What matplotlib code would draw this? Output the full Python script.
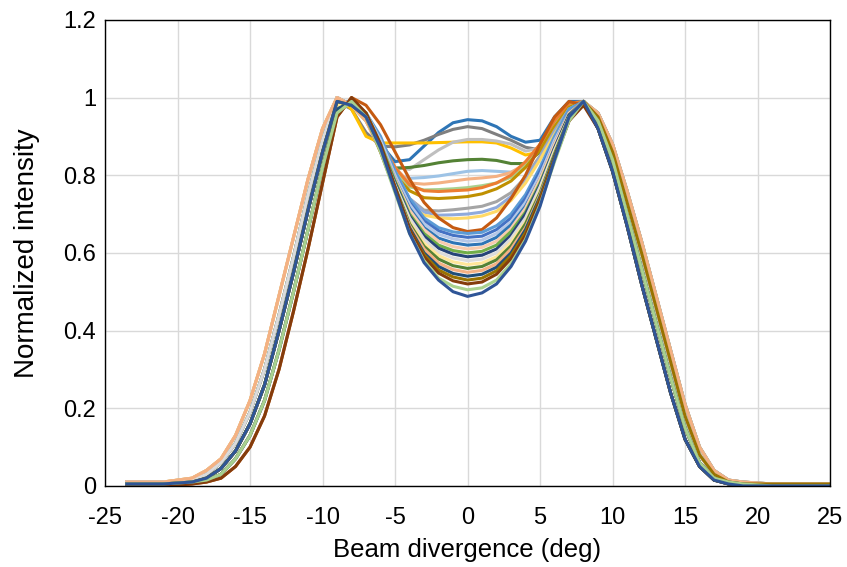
import numpy as np
import matplotlib
matplotlib.use("Agg")
import matplotlib.pyplot as plt

plt.rcParams['font.family'] = ['Liberation Sans', 'DejaVu Sans']
plt.rcParams['axes.unicode_minus'] = False

# x positions (deg) for the three parts of every profile
x_left = [-23.5, -21, -19, -18, -17, -16, -15, -14, -13, -12, -11, -10]
x_mid = [-9, -8, -7, -6, -5, -4, -3, -2, -1, 0, 1, 2, 3, 4, 5, 6, 7, 8]
x_right = [9, 10, 11, 12, 13, 14, 15, 16, 17, 18, 19, 21, 25]

# rising flanks (outer -> inner)
left_flanks = {
    'L0': [0.01, 0.01, 0.02, 0.04, 0.07, 0.13, 0.22, 0.34, 0.49, 0.64, 0.79, 0.92],
    'L1': [0.01, 0.01, 0.015, 0.03, 0.06, 0.11, 0.19, 0.30, 0.44, 0.59, 0.75, 0.89],
    'L2': [0.005, 0.005, 0.01, 0.02, 0.045, 0.09, 0.16, 0.26, 0.40, 0.55, 0.71, 0.86],
    'L3': [0.005, 0.005, 0.01, 0.015, 0.03, 0.07, 0.13, 0.22, 0.35, 0.50, 0.66, 0.82],
    'L4': [0.0, 0.0, 0.005, 0.01, 0.02, 0.05, 0.10, 0.18, 0.30, 0.45, 0.61, 0.78],
}
# falling flanks (outer -> inner)
right_flanks = {
    'R0': [0.96, 0.88, 0.76, 0.63, 0.49, 0.35, 0.21, 0.10, 0.04, 0.015, 0.01, 0.005, 0.005],
    'R1': [0.95, 0.86, 0.73, 0.60, 0.46, 0.32, 0.18, 0.08, 0.03, 0.01, 0.005, 0.005, 0.005],
    'R2': [0.94, 0.84, 0.70, 0.56, 0.42, 0.28, 0.15, 0.06, 0.02, 0.01, 0.005, 0.0, 0.0],
    'R3': [0.92, 0.81, 0.67, 0.52, 0.38, 0.24, 0.12, 0.05, 0.015, 0.005, 0.0, 0.0, 0.0],
}

# central part of each profile (x = -9 ... 8)
centers = [
    [1.0, 0.98, 0.94, 0.88, 0.835, 0.84, 0.875, 0.91, 0.935, 0.943, 0.94, 0.925, 0.90, 0.885, 0.89, 0.95, 0.99, 0.99],
    [0.99, 0.97, 0.91, 0.875, 0.873, 0.878, 0.89, 0.905, 0.918, 0.925, 0.92, 0.905, 0.89, 0.872, 0.865, 0.905, 0.965, 0.99],
    [1.0, 0.97, 0.90, 0.883, 0.883, 0.883, 0.883, 0.884, 0.885, 0.886, 0.886, 0.883, 0.87, 0.852, 0.86, 0.92, 0.975, 0.99],
    [0.99, 0.98, 0.95, 0.88, 0.82, 0.815, 0.84, 0.865, 0.885, 0.892, 0.892, 0.888, 0.88, 0.862, 0.87, 0.92, 0.97, 0.99],
    [0.99, 0.98, 0.95, 0.87, 0.818, 0.82, 0.825, 0.832, 0.837, 0.84, 0.841, 0.838, 0.83, 0.83, 0.86, 0.92, 0.97, 0.99],
    [0.97, 0.99, 0.95, 0.86, 0.80, 0.792, 0.794, 0.798, 0.804, 0.81, 0.812, 0.81, 0.808, 0.825, 0.87, 0.93, 0.98, 0.99],
    [0.99, 0.98, 0.95, 0.88, 0.82, 0.78, 0.777, 0.78, 0.785, 0.79, 0.793, 0.797, 0.807, 0.83, 0.875, 0.935, 0.98, 0.99],
    [1.0, 0.98, 0.95, 0.88, 0.81, 0.77, 0.762, 0.763, 0.765, 0.768, 0.773, 0.78, 0.795, 0.825, 0.87, 0.93, 0.98, 0.99],
    [0.96, 0.99, 0.96, 0.89, 0.82, 0.775, 0.76, 0.758, 0.76, 0.762, 0.768, 0.78, 0.80, 0.835, 0.88, 0.94, 0.985, 0.99],
    [1.0, 0.98, 0.94, 0.87, 0.80, 0.76, 0.742, 0.74, 0.742, 0.745, 0.752, 0.765, 0.785, 0.82, 0.865, 0.925, 0.975, 0.99],
    [0.99, 0.98, 0.95, 0.88, 0.80, 0.74, 0.71, 0.708, 0.711, 0.715, 0.72, 0.732, 0.755, 0.795, 0.85, 0.915, 0.97, 0.99],
    [0.96, 0.99, 0.96, 0.89, 0.81, 0.74, 0.705, 0.697, 0.698, 0.70, 0.705, 0.717, 0.745, 0.79, 0.845, 0.91, 0.97, 0.99],
    [1.0, 0.98, 0.94, 0.87, 0.78, 0.72, 0.697, 0.69, 0.688, 0.69, 0.695, 0.707, 0.735, 0.78, 0.84, 0.905, 0.965, 0.99],
    [0.95, 1.0, 0.98, 0.93, 0.86, 0.79, 0.73, 0.69, 0.665, 0.655, 0.66, 0.69, 0.74, 0.80, 0.88, 0.95, 0.99, 0.98],
    [0.99, 0.99, 0.96, 0.90, 0.81, 0.74, 0.69, 0.665, 0.654, 0.65, 0.653, 0.67, 0.70, 0.75, 0.82, 0.90, 0.97, 0.99],
    [1.0, 0.98, 0.95, 0.89, 0.80, 0.73, 0.682, 0.657, 0.645, 0.64, 0.643, 0.66, 0.69, 0.74, 0.81, 0.89, 0.96, 0.99],
    [0.98, 0.99, 0.96, 0.89, 0.80, 0.725, 0.675, 0.648, 0.636, 0.63, 0.633, 0.65, 0.68, 0.73, 0.80, 0.89, 0.96, 0.99],
    [0.99, 0.98, 0.95, 0.88, 0.79, 0.715, 0.665, 0.638, 0.626, 0.62, 0.623, 0.64, 0.672, 0.72, 0.79, 0.88, 0.96, 0.99],
    [1.0, 0.98, 0.95, 0.88, 0.79, 0.71, 0.66, 0.63, 0.616, 0.61, 0.614, 0.63, 0.663, 0.715, 0.79, 0.88, 0.96, 0.99],
    [0.97, 0.99, 0.96, 0.88, 0.785, 0.70, 0.65, 0.62, 0.606, 0.60, 0.604, 0.62, 0.655, 0.705, 0.78, 0.87, 0.955, 0.99],
    [0.99, 0.98, 0.95, 0.87, 0.78, 0.695, 0.643, 0.612, 0.597, 0.59, 0.594, 0.61, 0.645, 0.70, 0.775, 0.87, 0.955, 0.99],
    [1.0, 0.98, 0.94, 0.87, 0.775, 0.69, 0.635, 0.602, 0.587, 0.58, 0.584, 0.60, 0.637, 0.69, 0.77, 0.865, 0.95, 0.99],
    [0.98, 0.99, 0.95, 0.87, 0.77, 0.68, 0.625, 0.593, 0.577, 0.57, 0.574, 0.59, 0.627, 0.68, 0.76, 0.86, 0.95, 0.99],
    [0.99, 0.98, 0.95, 0.87, 0.77, 0.675, 0.617, 0.584, 0.567, 0.56, 0.565, 0.582, 0.618, 0.675, 0.755, 0.855, 0.95, 0.99],
    [1.0, 0.98, 0.94, 0.86, 0.765, 0.67, 0.61, 0.574, 0.557, 0.55, 0.555, 0.572, 0.61, 0.665, 0.75, 0.85, 0.945, 0.99],
    [0.97, 0.99, 0.95, 0.87, 0.765, 0.665, 0.60, 0.565, 0.547, 0.54, 0.545, 0.563, 0.60, 0.66, 0.745, 0.85, 0.945, 0.99],
    [0.99, 0.98, 0.95, 0.86, 0.76, 0.66, 0.595, 0.556, 0.538, 0.53, 0.535, 0.554, 0.593, 0.652, 0.74, 0.845, 0.94, 0.99],
    [0.95, 1.0, 0.96, 0.88, 0.77, 0.66, 0.59, 0.548, 0.528, 0.52, 0.525, 0.545, 0.585, 0.645, 0.735, 0.84, 0.94, 0.98],
    [0.96, 0.99, 0.95, 0.86, 0.755, 0.65, 0.58, 0.535, 0.514, 0.505, 0.51, 0.53, 0.572, 0.635, 0.725, 0.835, 0.94, 0.99],
    [0.99, 0.98, 0.95, 0.87, 0.76, 0.65, 0.575, 0.53, 0.50, 0.488, 0.497, 0.52, 0.565, 0.63, 0.72, 0.84, 0.95, 0.99],
]
left_keys = ['L1', 'L2', 'L1', 'L2', 'L2', 'L3', 'L2', 'L1', 'L3', 'L0',
             'L2', 'L3', 'L1', 'L4', 'L2', 'L1', 'L2', 'L2', 'L0', 'L3',
             'L2', 'L1', 'L3', 'L2', 'L0', 'L3', 'L2', 'L4', 'L3', 'L2']
right_keys = ['R0', 'R1', 'R1', 'R2', 'R2', 'R1', 'R2', 'R2', 'R1', 'R0',
              'R2', 'R1', 'R3', 'R2', 'R1', 'R2', 'R0', 'R3', 'R1', 'R2',
              'R3', 'R1', 'R2', 'R3', 'R0', 'R2', 'R1', 'R3', 'R2', 'R3']
colors = ['#2E75B6', '#7F7F7F', '#FFC000', '#BFBFBF', '#548235', '#9DC3E6',
          '#F4B183', '#A9D18E', '#ED7D31', '#BF9000', '#A5A5A5', '#8FAADC',
          '#FFD966', '#C55A11', '#5B9BD5', '#4472C4', '#B4C7E7', '#2E75B6',
          '#F8CBAD', '#70AD47', '#264478', '#DBDBDB', '#FFE699', '#548235',
          '#F4B183', '#1F4E79', '#997300', '#843C0C', '#A9D18E', '#2F5597']

fig = plt.figure(figsize=(8.47, 5.67), dpi=100)
ax = fig.add_axes([0.124, 0.143, 0.856, 0.822])

x_all = x_left + x_mid + x_right
for mid, lk, rk, col in zip(centers, left_keys, right_keys, colors):
    y_all = left_flanks[lk] + mid + right_flanks[rk]
    ax.plot(x_all, y_all, color=col, linewidth=2.2, solid_joinstyle='round')

ax.set_xlim(-25, 25)
ax.set_ylim(0, 1.2)
ax.set_xticks(np.arange(-25, 26, 5))
ax.set_yticks([0, 0.2, 0.4, 0.6, 0.8, 1.0, 1.2])
ax.set_yticklabels(['0', '0.2', '0.4', '0.6', '0.8', '1', '1.2'])
ax.grid(True, color='#D9D9D9', linewidth=1.0)
ax.set_axisbelow(True)
for s in ax.spines.values():
    s.set_color('black')
    s.set_linewidth(1.0)
ax.tick_params(length=0, labelsize=17)
ax.tick_params(axis='y', pad=6.5)
ax.tick_params(axis='x', pad=15)
ax.set_xlabel('Beam divergence (deg)', fontsize=18.5, labelpad=7)
ax.set_ylabel('Normalized intensity', fontsize=20, labelpad=17)

fig.savefig('out.png', dpi=100)
